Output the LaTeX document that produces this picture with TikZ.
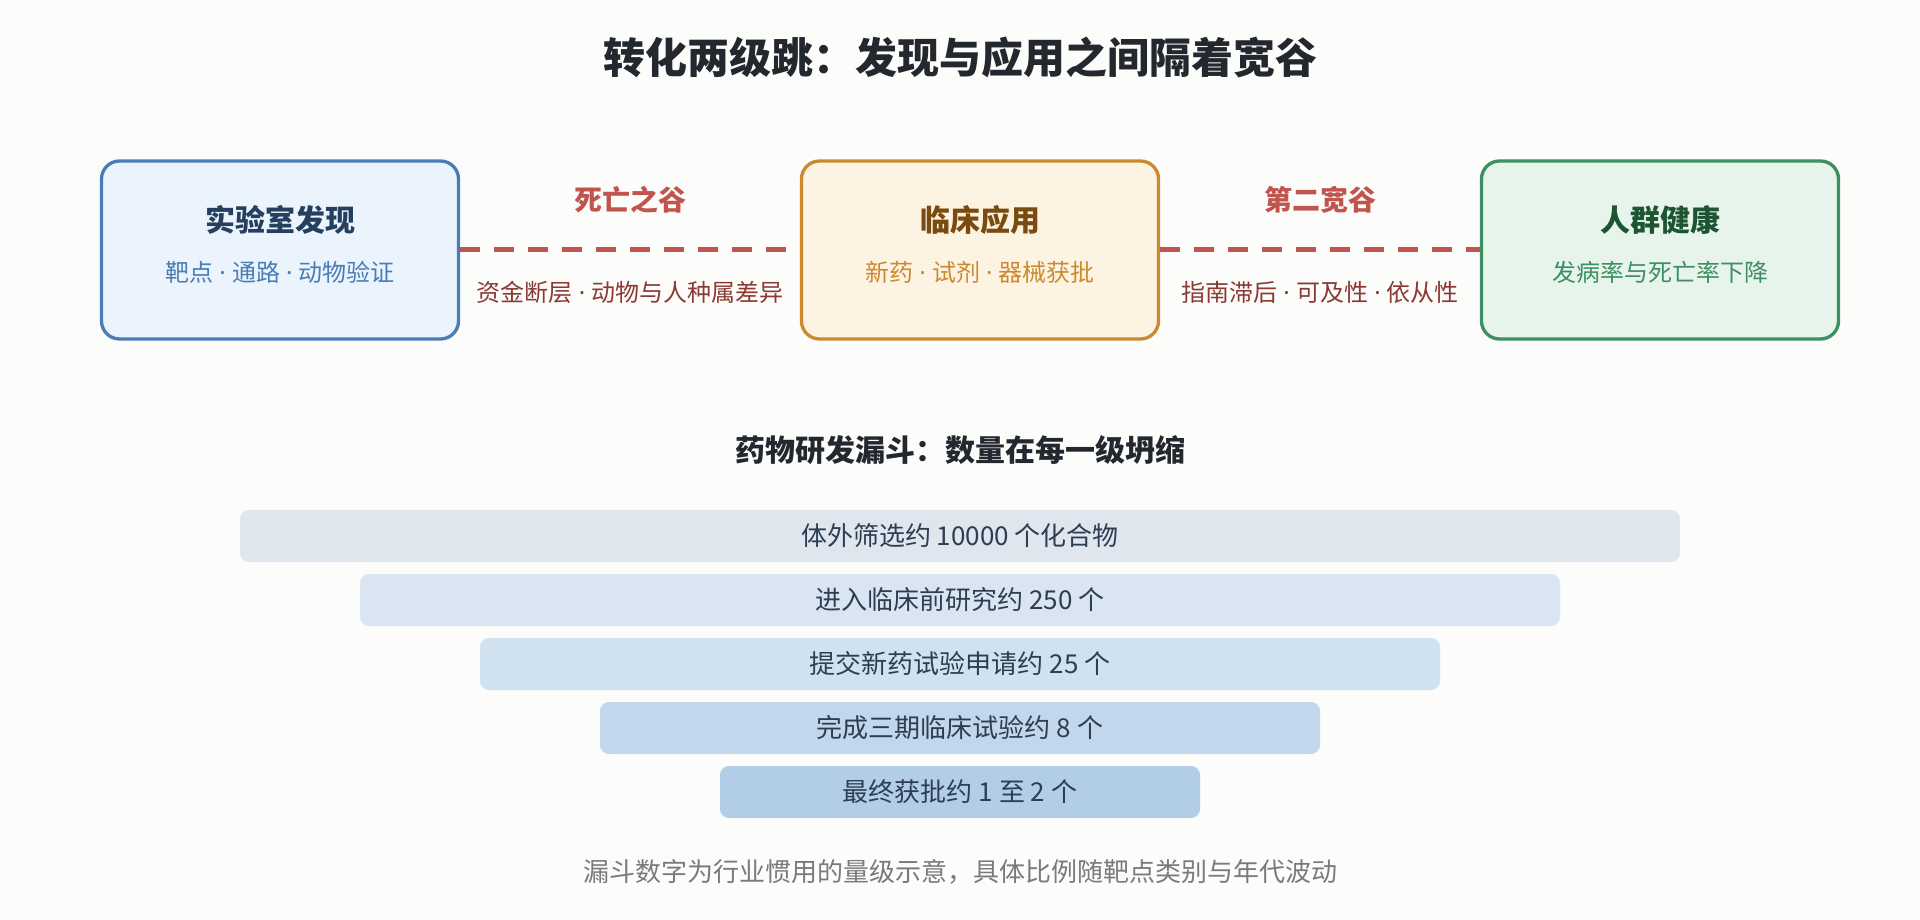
\documentclass[tikz,border=0pt]{standalone}
\usepackage{fontspec}
\setmainfont{Noto Sans CJK SC}
\newfontfamily\latinfont{Noto Sans}
\newcommand\midsep{{\latinfont\ ·\ }}
\usepackage{tikz}
\usetikzlibrary{positioning}
\definecolor{bgc}{HTML}{FCFCFA}
\definecolor{ink}{HTML}{23272E}
\definecolor{valley}{HTML}{C0554F}
\definecolor{valleynote}{HTML}{8A3A33}
\definecolor{labfill}{HTML}{EBF3FD}
\definecolor{labline}{HTML}{4A7DB5}
\definecolor{labtitle}{HTML}{25405F}
\definecolor{clinfill}{HTML}{FDF3E3}
\definecolor{clinline}{HTML}{CC8A2F}
\definecolor{clintitle}{HTML}{7A4A0F}
\definecolor{popfill}{HTML}{E7F4EC}
\definecolor{popline}{HTML}{3D8F63}
\definecolor{poptitle}{HTML}{1D5532}
\definecolor{barA}{HTML}{DFE6EE}
\definecolor{barB}{HTML}{D9E5F1}
\definecolor{barC}{HTML}{D0E1F0}
\definecolor{barD}{HTML}{C2D7EC}
\definecolor{barE}{HTML}{B2CDE8}
\definecolor{bartext}{HTML}{2E3E52}
\definecolor{notegray}{HTML}{7A7A7A}
\tikzset{
    stage/.style={rectangle,draw,line width=3.3pt,rounded corners=18pt,minimum width=357pt,minimum height=178pt},
    stagetitle/.style={font=\fontsize{30}{35}\selectfont\bfseries},
    stagesub/.style={font=\fontsize{24}{29}\selectfont},
    gap/.style={draw=valley,line width=5pt,dash pattern=on 20pt off 14pt},
    gaptitle/.style={text=valley,font=\fontsize{28}{33}\selectfont\bfseries},
    gapnote/.style={text=valleynote,font=\fontsize{24}{29}\selectfont},
    bar/.style={rectangle,rounded corners=9pt,minimum height=52pt,text=bartext,font=\fontsize{26}{31}\selectfont}
}

\begin{document}
\begin{tikzpicture}[x=1pt,y=-1pt]
\fill[bgc] (0,0) rectangle (1920,920);
\useasboundingbox (0,0) rectangle (1920,920);

\node[text=ink,font=\fontsize{42}{50}\selectfont\bfseries] (title) at (960,57) {转化两级跳：发现与应用之间隔着宽谷};

% three stages
\node[stage,draw=labline,fill=labfill] (lab) at (280,250) {};
\node[stage,draw=clinline,fill=clinfill] (clin) at (980,250) {};
\node[stage,draw=popline,fill=popfill] (pop) at (1660,250) {};

\node[stagetitle,text=labtitle] (labT) at (280,220) {实验室发现};
\node[stagesub,text=labline] (labS) at (280,272) {靶点\midsep 通路\midsep 动物验证};
\node[stagetitle,text=clintitle] (clinT) at (980,220) {临床应用};
\node[stagesub,text=clinline] (clinS) at (980,272) {新药\midsep 试剂\midsep 器械获批};
\node[stagetitle,text=poptitle] (popT) at (1660,220) {人群健康};
\node[stagesub,text=popline] (popS) at (1660,272) {发病率与死亡率下降};

% valleys
\draw[gap] (lab) -- (clin) node[midway, yshift=50pt, gaptitle] {死亡之谷}
    node[midway, yshift=-42pt, gapnote] {资金断层\midsep 动物与人种属差异};
\draw[gap] (clin) -- (pop) node[midway, yshift=50pt, gaptitle] {第二宽谷}
    node[midway, yshift=-42pt, gapnote] {指南滞后\midsep 可及性\midsep 依从性};

% funnel
\node[text=ink,font=\fontsize{30}{35}\selectfont\bfseries] (funnel) at (960,450) {药物研发漏斗：数量在每一级坍缩};

\node[bar,fill=barA,minimum width=1440pt] (b1) at (960,536) {体外筛选约 10000 个化合物};
\node[bar,fill=barB,minimum width=1200pt] (b2) at (960,600) {进入临床前研究约 250 个};
\node[bar,fill=barC,minimum width=960pt] (b3) at (960,664) {提交新药试验申请约 25 个};
\node[bar,fill=barD,minimum width=720pt] (b4) at (960,728) {完成三期临床试验约 8 个};
\node[bar,fill=barE,minimum width=480pt] (b5) at (960,792) {最终获批约 1 至 2 个};

\node[text=notegray,font=\fontsize{26}{31}\selectfont] (note) at (960,872) {漏斗数字为行业惯用的量级示意，具体比例随靶点类别与年代波动};

\end{tikzpicture}
\end{document}
